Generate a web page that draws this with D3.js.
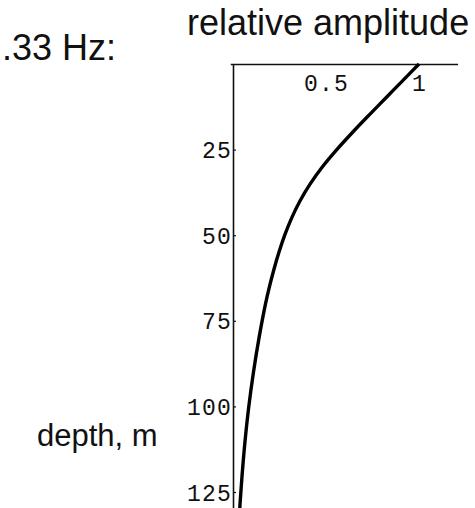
<!DOCTYPE html>
<html>
<head>
<meta charset="utf-8">
<script src="https://cdn.jsdelivr.net/npm/d3@7/dist/d3.min.js"></script>
<style>
  html, body { margin: 0; padding: 0; background: #fff; }
  svg { display: block; }
  .tick text { font-family: "Liberation Mono", "DejaVu Sans Mono", monospace; font-size: 23px; letter-spacing: 1.2px; fill: #111; }
  .label { font-family: "Liberation Sans", Arial, sans-serif; fill: #111; }
</style>
</head>
<body>
<svg id="chart" width="475" height="508"></svg>
<script>
// Relative amplitude of the 0.33 Hz wave against depth (m)
const depths     = [0, 5, 10, 15, 20, 25, 30, 35, 40, 45, 50, 55, 60, 65, 70, 80, 90, 100, 110, 120, 130];
const amplitudes = [1.0, 0.91, 0.82, 0.73, 0.642, 0.558, 0.481, 0.415, 0.36, 0.315, 0.278, 0.247,
                    0.22, 0.196, 0.175, 0.14, 0.11, 0.085, 0.065, 0.049, 0.036];
const ampTicks   = [0.5, 1];
const depthTicks = [25, 50, 75, 100, 125];

const svg = d3.select("#chart");

const x = d3.scaleLinear().domain([0, 1]).range([233, 419]);
const y = d3.scaleLinear().domain([0, 125]).range([64, 492]);

// amplitude axis along the surface line, labels hanging below it
const xAxis = d3.axisBottom(x)
  .tickValues(ampTicks)
  .tickFormat(d3.format("~g"))
  .tickSizeInner(0)
  .tickSizeOuter(0)
  .tickPadding(7);
const gx = svg.append("g").attr("transform", `translate(0,${y(0)})`).call(xAxis);
gx.select(".domain").attr("d", `M${x(-0.012)},0.5H${x(1.21)}`)
  .attr("stroke", "#111").attr("stroke-width", 1.6);
gx.selectAll(".tick text").attr("dy", "0.85em");

// depth axis, ticks pointing into the plot
const yAxis = d3.axisLeft(y)
  .tickValues(depthTicks)
  .tickSizeInner(-3)
  .tickSizeOuter(0)
  .tickPadding(1);
const gy = svg.append("g").attr("transform", `translate(${x(0)},0)`).call(yAxis);
gy.select(".domain").attr("d", `M0.5,${y(0)}V${y(131)}`)
  .attr("stroke", "#111").attr("stroke-width", 1.6);
gy.selectAll(".tick line").attr("stroke", "#111").attr("stroke-width", 1.2);
gy.selectAll(".tick text").attr("dy", "0.35em");

// amplitude profile
const line = d3.line()
  .x((d, i) => x(amplitudes[i]))
  .y(d => y(d))
  .curve(d3.curveCatmullRom.alpha(0.5));
svg.append("path")
  .datum(depths)
  .attr("d", line)
  .attr("fill", "none")
  .attr("stroke", "#000")
  .attr("stroke-width", 3.4)
  .attr("stroke-linecap", "butt");

// labels
svg.append("text").attr("class", "label").attr("x", 187).attr("y", 35)
  .style("font-size", "36px").text("relative amplitude");
svg.append("text").attr("class", "label").attr("x", 2).attr("y", 60)
  .style("font-size", "36px").text(".33 Hz:");
svg.append("text").attr("class", "label").attr("x", 37).attr("y", 446)
  .style("font-size", "31px").text("depth, m");
</script>
</body>
</html>
